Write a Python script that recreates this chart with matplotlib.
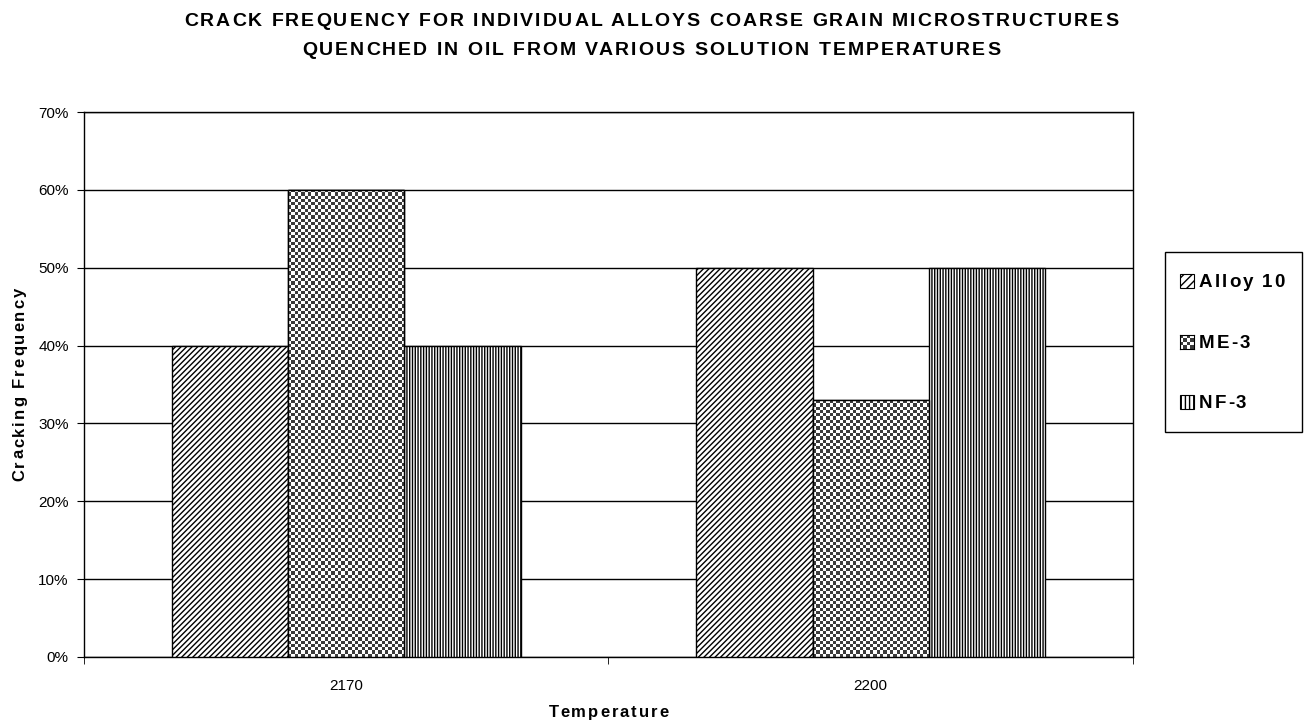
import numpy as np
import matplotlib.pyplot as plt
from matplotlib.patches import Rectangle
from matplotlib.font_manager import FontProperties
from matplotlib.ticker import PercentFormatter
from matplotlib import transforms

plt.rcParams['font.family'] = ['Liberation Sans', 'DejaVu Sans']
plt.rcParams['hatch.linewidth'] = 1.0

temps = ['2170', '2200']
alloy10 = [40, 50]
me3 = [60, 33]
nf3 = [40, 50]

names = ['Alloy 10', 'ME-3', 'NF-3']
values = [alloy10, me3, nf3]
hatches = ['//////', None, '||||||']

W, H = 1305, 722
fig = plt.figure(figsize=(W / 100, H / 100), dpi=100)
ax = fig.add_axes([84 / W, 1 - 657 / H, (1133 - 84) / W, (657 - 112) / H])
renderer = fig.canvas.get_renderer()


def checker(n_y, n_x):
    return (np.add.outer(np.arange(n_y), np.arange(n_x)) % 2).astype(float)


def spaced_text(s, px, py, size, track=2.0, vertical=False, align='center'):
    # bold text with extra letter spacing; (px, py) in pixels from top-left
    fp = FontProperties(family='Liberation Sans', weight='bold', size=size)

    def wid(t):
        if not t:
            return 0.0
        return renderer.get_text_width_height_descent(t, fp, ismath=False)[0]

    total = wid(s) + track * (len(s) - 1)
    start = -total / 2 if align == 'center' else 0.0
    for k, ch in enumerate(s):
        if ch == ' ':
            continue
        off = wid(s[:k + 1]) - wid(ch) + k * track + start
        dx, dy = (0, off) if vertical else (off, 0)
        tr = transforms.offset_copy(fig.transFigure, fig=fig, x=dx, y=dy,
                                    units='dots')
        fig.text(px / W, 1 - py / H, ch, fontproperties=fp, transform=tr,
                 ha='left', va='baseline', rotation=90 if vertical else 0,
                 rotation_mode='anchor', zorder=6)


x = np.arange(len(temps))
w = 0.222
cell = 3.3
px_per_unit_x = (1133 - 84) / 2
px_per_unit_y = (657 - 112) / 70

for i, (vals, hatch) in enumerate(zip(values, hatches)):
    pos = x + (i - 1) * w
    if hatch:
        ax.bar(pos, vals, w, color='white', edgecolor='black', hatch=hatch,
               linewidth=1.0, zorder=3)
        continue
    bars = ax.bar(pos, vals, w, color='white', edgecolor='black',
                  linewidth=1.0, zorder=3)
    for b, v, p in zip(bars, vals, pos):
        ny = int(round(v * px_per_unit_y / cell))
        nx = int(round(w * px_per_unit_x / cell))
        im = ax.imshow(checker(ny, nx), cmap='gray', vmin=-0.3, vmax=1.0,
                       extent=[p - w / 2, p + w / 2, 0, v], aspect='auto',
                       interpolation='nearest', origin='lower', zorder=3.5)
        im.set_clip_path(b)
    ax.bar(pos, vals, w, fill=False, edgecolor='black', linewidth=1.0,
           zorder=4)

ax.set_xlim(-0.5, 1.5)
ax.set_ylim(0, 70)
ax.set_yticks(np.arange(0, 71, 10))
ax.yaxis.set_major_formatter(PercentFormatter(decimals=0))
ax.set_xticks(x)
ax.set_xticklabels(temps)
ax.tick_params(axis='x', length=0, labelsize=11, pad=16)
ax.set_xticks([-0.5, 0.5, 1.5], minor=True)
ax.tick_params(axis='x', which='minor', length=5, direction='out')
ax.tick_params(axis='y', length=5, labelsize=11, direction='out', pad=6)
ax.yaxis.grid(True, color='black', linewidth=1.0, zorder=0)
ax.set_axisbelow(True)
for s in ax.spines.values():
    s.set_linewidth(1.0)

# titles and axis labels
spaced_text('CRACK FREQUENCY FOR INDIVIDUAL ALLOYS COARSE GRAIN MICROSTRUCTURES',
            651, 26, 14)
spaced_text('QUENCHED IN OIL FROM VARIOUS SOLUTION TEMPERATURES', 651, 55, 14)
spaced_text('Temperature', 609, 717, 12)
spaced_text('Cracking Frequency', 24, 384, 12, vertical=True)

# legend box
fig.patches.append(Rectangle((1165 / W, 1 - 432 / H), 137 / W, 180 / H,
                             transform=fig.transFigure, facecolor='white',
                             edgecolor='black', linewidth=1.0, zorder=1))
leg_y = [281, 342, 402]
for name, hatch, ly in zip(names, hatches, leg_y):
    box = [1180 / W, 1 - (ly + 7) / H, 14 / W, 14 / H]
    if hatch:
        fig.patches.append(Rectangle(box[:2], box[2], box[3],
                                     transform=fig.transFigure,
                                     facecolor='white', edgecolor='black',
                                     hatch=hatch[:4], linewidth=0.8,
                                     zorder=2))
    else:
        hax = fig.add_axes(box, zorder=5)
        hax.imshow(checker(4, 4), cmap='gray', vmin=-0.3, vmax=1.0,
                   interpolation='nearest', aspect='auto')
        hax.set_xticks([])
        hax.set_yticks([])
        for s in hax.spines.values():
            s.set_linewidth(0.8)
    spaced_text(name, 1199, ly + 6, 13.5, align='left')

fig.savefig('out.png', dpi=100)
